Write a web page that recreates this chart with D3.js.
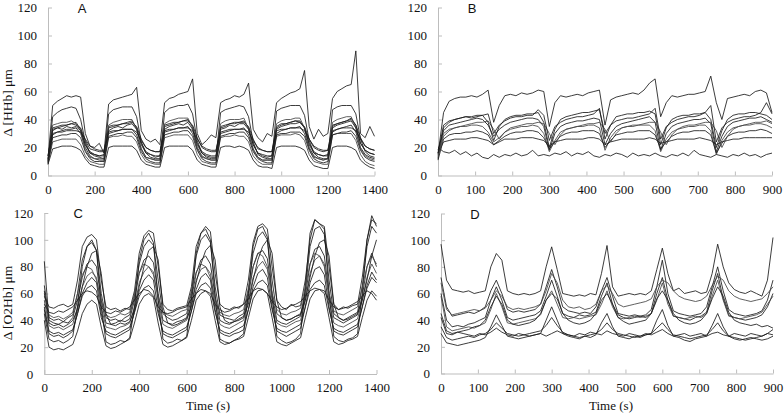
<!DOCTYPE html>
<html><head><meta charset="utf-8">
<script src="https://cdn.jsdelivr.net/npm/d3@7"></script>
<style>body{margin:0;background:#fff}svg{display:block}</style>
</head><body>
<svg id="chart" width="784" height="416"></svg>
<script>
// ---- time samples (s) ----
const timeLong = [0,20,40,60,80,100,120,140,160,180,200,220,240,260,280,300,320,340,360,380,400,420,440,460,480,500,520,540,560,580,600,620,640,660,680,700,720,740,760,780,800,820,840,860,880,900,920,940,960,980,1000,1020,1040,1060,1080,1100,1120,1140,1160,1180,1200,1220,1240,1260,1280,1300,1320,1340,1360,1380,1400];
const timeShort = [0,15,30,45,60,75,90,105,120,135,150,165,180,195,210,225,240,255,270,285,300,315,330,345,360,375,390,405,420,435,450,465,480,495,510,525,540,555,570,585,600,615,630,645,660,675,690,705,720,735,750,765,780,795,810,825,840,855,870,885,900];

// ---- tick labels ----
const yTickValues = [0,20,40,60,80,100,120];
const xTicksLong = [0,200,400,600,800,1000,1200,1400];
const xTicksShort = [0,100,200,300,400,500,600,700,800,900];

// ---- Panel A: Δ[HHb], long protocol ----
const hhbA1 = [12,50,53,55,57,56,57,56,30,21,20,23, 16,51,54,55,56,57,58,63,32,26,24,26, 22,52,55,56,58,59,60,69,30,22,25,29, 27,52,54,55,57,56,58,66,33,27,24,30, 28,52,55,57,59,60,62,75,35,26,33,28, 30,55,60,62,64,65,89,30,27,35,28];
const hhbA2 = [10,42,45,47,48,49,48,40,24,16,14,13, 12,44,47,48,49,49,49,42,24,16,13,12, 12,45,48,49,50,50,51,44,25,16,13,12, 12,45,47,48,49,50,49,42,24,15,13,12, 12,46,48,49,50,50,50,43,25,16,13,12, 12,47,49,50,50,50,44,26,17,14,13];
const hhbA3 = [8,19,20,21,21,21,20,18,12,8,7,6, 6,20,21,21,21,21,21,18,11,8,7,6, 6,20,21,21,21,21,21,18,11,8,7,6, 6,20,21,21,20,21,20,18,11,7,6,6, 5,20,21,21,21,21,20,18,11,7,6,5, 5,20,21,21,21,20,18,11,8,6,5];
const hhbA4 = [9,24,25,26,26,26,26,22,14,10,9,8, 8,27,28,28,29,28,28,24,15,10,9,8, 8,27,28,29,29,29,29,25,15,10,9,8, 8,27,28,28,29,28,28,24,14,10,8,8, 8,28,29,29,29,30,29,25,15,10,9,8, 8,29,30,30,30,30,25,15,10,8,7];
const hhbA5 = [10,32,34,35,36,37,38,33,22,16,15,14, 14,34,35,36,37,38,39,34,22,16,15,14, 14,35,36,37,38,39,40,35,23,17,15,14, 14,34,35,37,38,38,39,34,22,16,15,14, 14,34,36,37,38,39,39,34,22,16,15,14, 15,35,37,38,39,41,36,23,18,16,15];
const hhbA6 = [12,29,31,32,33,33,34,30,20,14,12,11, 11,30,31,32,33,33,33,29,19,13,12,11, 11,31,32,33,34,34,35,30,20,14,12,11, 11,30,31,32,33,33,34,29,19,13,11,11, 11,30,32,33,34,34,35,30,20,14,12,11, 12,31,33,34,35,36,31,20,15,13,12];
const hhbA7 = [14,34,35,36,36,37,36,34,25,19,18,17, 17,35,36,36,37,37,38,35,26,20,18,17, 17,36,37,38,38,39,39,36,27,20,18,17, 17,35,36,37,37,38,38,35,26,19,18,17, 17,35,37,37,38,39,38,35,26,20,18,17, 18,36,37,38,39,40,36,27,21,19,18];
const hhbA8 = [9,36,37,38,38,39,37,32,18,13,12,12, 12,36,38,39,40,40,40,33,19,13,12,11, 11,37,39,40,41,41,41,34,19,13,12,11, 11,37,39,40,40,40,41,33,18,13,11,11, 11,37,39,40,40,41,41,34,19,13,12,11, 12,38,40,41,42,42,34,19,14,12,11];
const hhbA9 = [11,30,31,31,32,32,32,31,26,21,19,18, 18,31,32,32,33,33,33,31,25,20,18,17, 17,32,33,33,34,34,34,32,26,21,19,18, 18,31,32,33,33,33,33,31,25,20,18,17, 17,32,33,33,34,34,34,32,26,21,19,18, 18,32,33,34,34,34,32,26,21,19,18];
const hhbA10 = [8,27,28,29,29,30,30,27,17,12,10,10, 10,28,29,30,30,31,31,27,17,12,10,9, 9,29,30,31,31,32,32,28,18,12,10,9, 9,28,29,30,30,31,31,27,17,12,10,9, 9,29,30,30,31,31,31,28,18,12,10,9, 10,29,30,31,31,32,28,18,13,11,10];
const hhbA11 = [14,33,34,33,35,34,35,32,22,17,15,14, 15,32,34,35,34,36,37,33,23,17,15,13, 14,33,35,36,37,36,38,33,22,16,14,13, 13,33,34,36,35,37,37,33,22,16,14,13, 14,33,35,36,37,37,38,34,23,17,15,14, 14,34,36,37,38,39,34,23,18,16,15];

// ---- Panel B: Δ[HHb], short protocol ----
const hhbB1 = [15,45,53,55,56,56,57,56,58,61, 38,50,57,58,57,59,58,59,61,60, 35,52,57,56,57,58,57,59,60,61, 36,54,56,57,58,59,58,61,66,69, 42,52,57,56,57,58,58,59,60,71, 52,40,55,56,57,58,57,60,61,59, 45];
const hhbB2 = [12,34,38,40,41,42,42,43,43,38, 25,35,40,42,43,43,44,44,45,38, 20,33,40,42,43,44,45,45,46,47, 30,36,42,43,44,44,45,45,46,44, 22,34,40,42,43,43,44,44,45,40, 20,32,40,43,44,44,45,45,44,43, 40];
const hhbB3 = [18,32,36,37,38,39,40,41,40,36, 28,33,36,38,39,40,41,41,40,35, 18,30,35,37,38,39,39,40,41,40, 22,30,35,37,38,39,40,41,42,38, 18,30,35,37,38,39,40,40,41,37, 17,28,35,38,39,40,41,41,42,40, 38];
const hhbB4 = [14,30,33,34,35,35,36,36,35,31, 24,27,31,33,34,35,35,36,35,30, 17,25,31,33,34,35,35,36,36,34, 18,27,32,34,35,35,36,36,36,32, 17,26,31,33,34,35,35,36,36,32, 15,25,31,34,35,36,36,37,37,36, 34];
const hhbB5 = [11,26,29,30,30,31,31,32,31,29, 22,25,28,30,31,31,32,32,31,27, 19,24,28,30,31,31,32,32,32,30, 20,25,29,30,31,31,32,32,32,29, 19,24,28,30,31,31,32,32,32,29, 16,23,28,30,31,31,32,32,33,32, 30];
const hhbB6 = [16,24,25,26,26,26,27,27,26,25, 22,24,26,26,26,27,27,27,26,25, 21,24,25,26,26,26,26,27,27,26, 22,24,25,26,26,26,26,26,27,26, 23,24,25,26,26,26,26,27,26,25, 22,24,25,26,26,27,27,27,27,27, 27];
const hhbB7 = [20,17,16,18,15,17,14,16,13,12, 15,13,15,14,16,14,15,18,14,15, 14,16,15,17,14,16,15,17,14,13, 15,14,16,15,13,16,14,15,14,16, 14,13,15,14,16,14,18,15,14,13, 15,14,13,15,14,16,14,15,13,15, 16];
const hhbB8 = [13,28,32,34,35,36,37,38,38,39, 33,26,31,34,35,36,37,37,38,37, 30,22,29,33,34,35,36,37,37,38, 33,24,30,34,35,36,36,37,38,38, 31,22,29,33,35,36,36,37,38,38, 32,20,28,33,35,36,37,38,38,39, 37];
const hhbB9 = [16,36,39,40,41,42,41,42,43,44, 30,36,39,41,42,42,43,43,47,43, 25,35,38,40,41,42,42,43,44,48, 26,36,39,40,41,41,42,43,44,48, 26,35,38,40,41,42,42,43,45,50, 24,34,38,40,41,42,42,43,45,52, 44];

// ---- Panel C: Δ[O2Hb], long protocol ----
const o2hbC1 = [58,50,49,51,52,50,52,70,95,102, 104,100,70,50,48,49,47,49,48,62, 90,103,107,105,80,52,48,47,49,50, 51,65,95,105,110,106,75,52,49,48, 50,49,52,70,98,110,112,108,80,55, 50,48,52,50,51,70,100,115,112,110, 80,52,48,50,49,51,52,72,100,115, 112];
const o2hbC2 = [66,42,40,41,39,42,44,60,85,95, 98,92,60,42,40,41,39,42,44,58, 82,95,100,96,70,45,42,40,41,43, 45,60,88,100,104,98,65,44,42,41, 40,43,45,62,90,102,106,100,70,45, 42,40,41,43,44,62,95,108,110,104, 70,45,42,40,42,44,46,65,95,110, 105];
const o2hbC3 = [84,40,38,37,39,38,42,55,72,82, 85,80,55,38,37,38,40,39,41,55, 75,85,88,83,60,40,38,37,39,40, 42,56,75,85,88,82,58,40,38,37, 39,40,42,58,80,90,92,86,60,40, 38,37,39,41,43,58,82,93,95,88, 60,42,40,38,40,42,44,58,80,90, 80];
const o2hbC4 = [55,36,34,35,33,35,37,50,65,73, 76,72,50,35,34,33,35,36,38,50, 68,76,80,76,55,37,35,34,36,38, 40,52,70,78,80,75,52,37,35,34, 36,38,40,55,72,80,84,78,55,38, 36,35,37,39,40,55,75,85,88,82, 55,38,36,35,37,39,41,55,72,82, 75];
const o2hbC5 = [50,32,30,31,29,31,33,45,58,64, 66,62,42,32,30,29,31,33,35,46, 58,64,66,62,45,32,30,29,31,33, 35,47,60,66,68,64,46,33,31,30, 32,34,36,48,62,68,70,66,48,34, 32,31,33,35,37,50,63,68,70,66, 48,34,32,31,33,35,37,50,64,72, 68];
const o2hbC6 = [45,26,24,25,23,25,28,50,80,95, 100,92,50,24,22,23,25,24,27,50, 85,100,105,98,55,26,23,24,26,25, 28,55,90,105,108,100,58,26,24,23, 25,27,30,60,95,108,110,102,58,28, 25,23,24,26,30,65,105,115,112,108, 60,28,25,24,26,27,30,60,100,118, 110];
const o2hbC7 = [40,20,18,19,18,20,22,32,45,52, 55,52,35,21,19,20,22,24,26,38, 52,58,60,57,38,22,20,21,23,25, 27,40,55,60,62,58,40,24,22,23, 25,26,28,42,56,62,63,60,42,24, 22,21,23,25,27,42,56,62,63,60, 42,24,22,23,25,26,28,42,55,62, 58];
const o2hbC8 = [60,44,42,43,41,43,46,60,74,80, 78,70,55,44,42,43,45,44,46,60, 75,82,80,74,58,46,44,43,45,47, 48,62,76,82,80,72,56,46,44,43, 45,46,48,64,80,90,88,80,60,48, 45,44,46,47,49,65,82,90,88,80, 60,47,45,44,46,48,50,65,80,88, 82];
const o2hbC9 = [52,46,45,47,46,48,50,55,60,62, 61,58,50,46,45,47,46,48,50,55, 60,63,62,58,50,46,45,46,48,49, 50,56,60,63,62,60,52,48,46,47, 49,50,52,56,62,64,63,60,54,50, 48,49,51,52,54,58,62,64,63,62, 55,50,48,49,50,52,54,58,62,60, 55];
const o2hbC10 = [62,38,36,37,35,37,40,48,65,80, 90,92,75,45,37,36,38,37,39,48, 65,80,92,95,85,50,38,36,37,39, 41,50,68,82,92,96,85,50,40,38, 39,41,43,52,70,85,95,100,90,55, 42,40,41,43,45,55,72,88,98,100, 88,52,42,40,41,43,45,55,70,88, 100];
const o2hbC11 = [48,30,28,29,27,29,32,45,60,68, 72,68,45,30,28,27,29,31,33,46, 62,70,74,70,48,30,28,27,29,31, 33,47,63,72,75,70,48,31,29,28, 30,31,33,48,65,75,78,72,50,32, 30,28,30,32,34,50,68,78,80,74, 50,32,30,29,31,33,35,50,66,76, 70];

// ---- Panel D: Δ[O2Hb], short protocol ----
const o2hbD1 = [97,70,63,62,61,62,60,61,62,80, 90,85,62,60,59,60,59,60,62,80, 95,78,60,59,58,59,58,60,59,75, 96,65,58,59,60,59,60,59,62,78, 94,75,62,64,60,61,62,60,61,75, 97,80,68,63,61,60,62,60,58,70, 102];
const o2hbD2 = [72,50,43,44,45,46,45,47,50,62, 70,60,48,46,47,46,47,48,52,65, 78,65,50,47,46,45,46,45,50,62, 72,58,45,44,43,44,43,44,48,65, 85,60,47,45,44,43,44,45,50,65, 80,62,48,45,44,43,44,45,47,55, 70];
const o2hbD3 = [60,40,35,36,35,37,38,40,42,55, 65,55,42,40,41,42,43,44,47,58, 70,58,45,43,42,44,43,44,46,58, 68,52,44,42,41,42,43,42,45,60, 72,55,43,42,41,40,42,43,46,62, 75,56,44,42,41,40,41,42,44,50, 60];
const o2hbD4 = [58,35,32,33,34,35,34,36,38,48, 60,50,38,37,38,39,40,41,44,55, 62,52,42,41,42,41,42,43,44,52, 62,50,42,41,42,43,42,43,45,55, 68,52,43,42,41,42,43,42,45,58, 70,55,43,42,41,42,43,44,46,52, 58];
const o2hbD5 = [42,30,29,31,30,29,28,30,29,31, 34,31,29,28,30,29,28,29,30,28, 30,32,30,29,28,30,29,31,30,29, 32,30,29,28,30,29,28,30,29,31, 33,30,28,29,30,28,29,30,28,30, 31,29,28,30,29,28,30,29,28,30, 29];
const o2hbD6 = [30,23,22,21,22,23,24,25,27,35, 44,36,28,27,26,27,28,29,30,40, 50,40,30,28,27,26,28,27,29,38, 45,35,28,27,26,28,27,29,30,40, 48,36,28,27,25,24,26,27,28,36, 45,35,28,26,25,26,27,26,25,26, 28];
const o2hbD7 = [45,32,30,31,32,33,35,36,40,50, 58,52,40,37,36,37,38,40,45,55, 60,56,45,40,38,37,38,40,45,55, 60,52,42,39,37,38,39,40,45,56, 62,55,45,40,38,37,38,40,45,56, 65,58,46,40,38,37,36,37,35,36, 34];
const o2hbD8 = [68,48,44,45,46,47,48,47,49,55, 62,58,50,48,49,48,49,50,52,62, 75,68,55,50,49,50,48,49,52,62, 66,60,52,50,51,52,53,54,56,65, 70,68,62,58,56,55,54,55,58,66, 73,70,62,58,56,55,54,55,56,60, 65];
const o2hbD9 = [35,27,25,26,27,28,27,29,30,33, 38,34,30,29,28,29,30,31,32,36, 42,36,31,29,28,27,28,29,30,33, 38,33,30,29,28,27,28,29,30,34, 38,33,29,28,27,26,27,28,29,33, 38,32,28,27,26,25,26,27,28,30, 33];

const panels = [
  {letter:"A", time:timeLong, xTicks:xTicksLong, xMax:1400,
   series:[hhbA1,hhbA2,hhbA3,hhbA4,hhbA5,hhbA6,hhbA7,hhbA8,hhbA9,hhbA10,hhbA11],
   left:48, right:374.5, top:7.5, bottom:175.5, title:"Δ [HHb] μm", titleY:103, xTitle:null},
  {letter:"B", time:timeShort, xTicks:xTicksShort, xMax:900,
   series:[hhbB1,hhbB2,hhbB3,hhbB4,hhbB5,hhbB6,hhbB7,hhbB8,hhbB9],
   left:438, right:772, top:7.5, bottom:175.5, title:null, xTitle:null},
  {letter:"C", time:timeLong, xTicks:xTicksLong, xMax:1400,
   series:[o2hbC1,o2hbC2,o2hbC3,o2hbC4,o2hbC5,o2hbC6,o2hbC7,o2hbC8,o2hbC9,o2hbC10,o2hbC11],
   left:44.3, right:376.5, top:213, bottom:374, title:"Δ [O2Hb] μm", titleY:303, xTitle:"Time (s)", xTitleX:208},
  {letter:"D", time:timeShort, xTicks:xTicksShort, xMax:900,
   series:[o2hbD1,o2hbD2,o2hbD3,o2hbD4,o2hbD5,o2hbD6,o2hbD7,o2hbD8,o2hbD9],
   left:441, right:773, top:213.5, bottom:373.5, title:null, xTitle:"Time (s)", xTitleX:611}
];

const svg = d3.select("#chart");
svg.append("rect").attr("width",784).attr("height",416).attr("fill","#fff");
const serif = "'Liberation Serif','Times New Roman',serif";
const axisColor = "#bdbdbd";

panels.forEach(p => {
  const x = d3.scaleLinear().domain([0, p.xMax]).range([p.left, p.right]);
  const y = d3.scaleLinear().domain([0, 120]).range([p.bottom, p.top]);
  const g = svg.append("g");

  const xa = g.append("g").attr("transform", `translate(0,${p.bottom})`)
    .call(d3.axisBottom(x).tickValues(p.xTicks).tickFormat(d3.format("d"))
      .tickSizeInner(-4).tickSizeOuter(0).tickPadding(9));
  const ya = g.append("g").attr("transform", `translate(${p.left},0)`)
    .call(d3.axisLeft(y).tickValues(yTickValues).tickFormat(d3.format("d"))
      .tickSizeInner(-4).tickSizeOuter(0).tickPadding(11));
  [xa, ya].forEach(a => {
    a.select(".domain").attr("stroke", axisColor).attr("stroke-width", 1);
    a.selectAll(".tick line").attr("stroke", axisColor).attr("stroke-width", 1);
    a.selectAll(".tick text").attr("fill", "#111").style("font-family", serif).style("font-size", "13px");
  });

  const line = d3.line().x((d, i) => x(p.time[i])).y(d => y(d));
  g.append("g").selectAll("path").data(p.series).join("path")
    .attr("d", line).attr("fill", "none")
    .attr("stroke", (d, i) => i % 4 === 3 ? "#444" : "#1a1a1a")
    .attr("stroke-width", 0.85).attr("stroke-linejoin", "round");

  g.append("text").attr("x", x(0) + 34).attr("y", p.top + 5)
    .style("font-family", "'Liberation Sans','Open Sans',sans-serif").style("font-size", "13px")
    .attr("fill", "#111").attr("text-anchor", "middle").text(p.letter);

  if (p.title) {
    g.append("text").attr("transform", `translate(12,${p.titleY}) rotate(-90)`)
      .attr("text-anchor", "middle").style("font-family", serif).style("font-size", "13.5px")
      .attr("fill", "#111").text(p.title);
  }
  if (p.xTitle) {
    g.append("text").attr("x", p.xTitleX).attr("y", 410).attr("text-anchor", "middle")
      .style("font-family", serif).style("font-size", "13px").attr("fill", "#111").text(p.xTitle);
  }
});
</script>
</body></html>
